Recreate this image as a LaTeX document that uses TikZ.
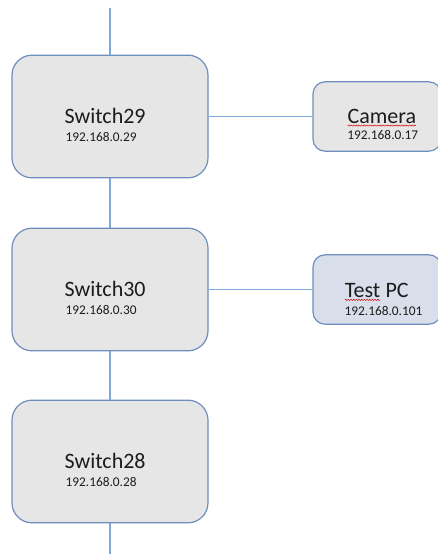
\documentclass[tikz,border=0pt]{standalone}
\usepackage{fontspec}
\setmainfont{Carlito}
\usepackage{tikz}
\usetikzlibrary{positioning,calc,decorations.pathmorphing}

\definecolor{boxgray}{RGB}{230,230,230}
\definecolor{pcfill}{RGB}{216,223,234}
\definecolor{boxedge}{RGB}{110,142,190}
\definecolor{wirecol}{RGB}{125,168,216}
\definecolor{txt}{RGB}{28,28,28}

% red spell-check squiggle under a word
\newcommand{\typo}[1]{\tikz[baseline=(w.base)]{\node[inner sep=0pt,outer sep=0pt] (w) {#1};
  \draw[red!85!black,line width=0.35pt,decorate,decoration={snake,amplitude=0.45pt,segment length=2pt}]
    ([yshift=-1.8pt]w.base west) -- ([yshift=-1.8pt]w.base east);}}

\begin{document}
\begin{tikzpicture}[x=0.75pt,y=-0.75pt,
  switchbox/.style={rectangle,draw=boxedge,line width=0.9pt,rounded corners=15pt,fill=boxgray,minimum width=147pt,minimum height=92pt},
  devbox/.style={rectangle,draw=boxedge,line width=0.9pt,rounded corners=9pt,fill=#1,minimum width=96pt,minimum height=52pt},
  title/.style={anchor=base west,inner sep=0pt,text=txt,font=\fontsize{16.5}{20}\selectfont},
  ipnum/.style={anchor=base west,inner sep=0pt,text=txt,font=\fontsize{10}{12}\selectfont},
  wire/.style={draw=wirecol,line width=0.8pt},
]
\clip (0,0) rectangle (438,554);

% Switches
\node[switchbox] (sw29) at (110,116.5) {};
\node[switchbox] (sw30) at (110,289.5) {};
\node[switchbox] (sw28) at (110,461.5) {};

% End devices
\node[devbox=boxgray] (cam) at (377,116.5) {};
\node[devbox=pcfill]  (pc)  at (377,289.5) {};

% Trunk in and out
\coordinate (top) at (110,8);
\coordinate (bottom) at (110,554);

% Links
\draw[wire] (top) -- (sw29.north);
\draw[wire] (sw29.south) -- (sw30.north);
\draw[wire] (sw30.south) -- (sw28.north);
\draw[wire] (sw28.south) -- (bottom);
\draw[wire] (sw29.east) -- (cam.west);
\draw[wire] (sw30.east) -- (pc.west);

% Names and addresses
\node[title] (sw29-t) at ([xshift=39.75pt,yshift=-5pt]sw29.west) {Switch29};
\node[ipnum] (sw29-ip) at ([xshift=0.75pt,yshift=-13.5pt]sw29-t.base west) {192.168.0.29};
\node[title] (sw30-t) at ([xshift=39.75pt,yshift=-5pt]sw30.west) {Switch30};
\node[ipnum] (sw30-ip) at ([xshift=0.75pt,yshift=-13.5pt]sw30-t.base west) {192.168.0.30};
\node[title] (sw28-t) at ([xshift=39.75pt,yshift=-5pt]sw28.west) {Switch28};
\node[ipnum] (sw28-ip) at ([xshift=0.75pt,yshift=-13.5pt]sw28-t.base west) {192.168.0.28};

\node[title] (cam-t) at ([xshift=26pt,yshift=-5pt]cam.west) {\typo{Camera}};
\node[ipnum] (cam-ip) at ([xshift=0pt,yshift=-12pt]cam-t.base west) {192.168.0.17};
\node[title] (pc-t) at ([xshift=24pt,yshift=-6pt]pc.west) {\typo{Test} PC};
\node[ipnum] (pc-ip) at ([xshift=0pt,yshift=-13.5pt]pc-t.base west) {192.168.0.101};
\end{tikzpicture}
\end{document}
